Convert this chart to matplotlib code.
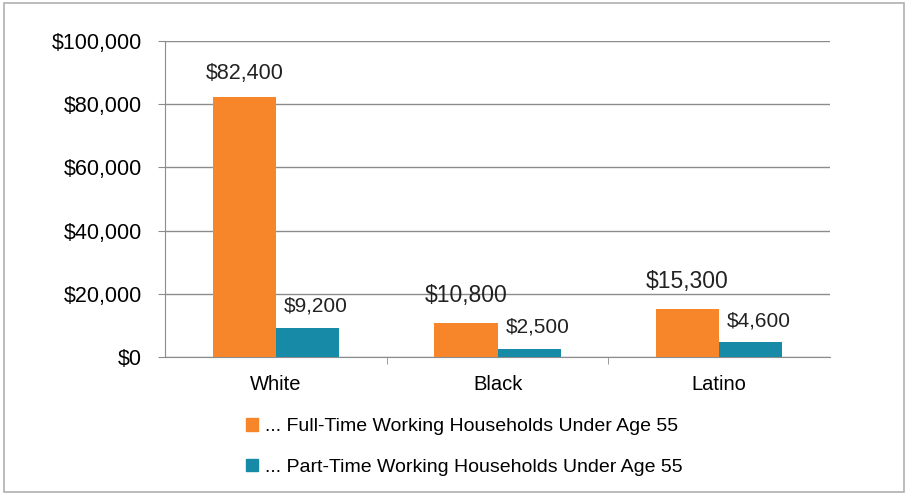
import numpy as np
import matplotlib.pyplot as plt
from matplotlib.patches import Rectangle, Patch

groups = ["White", "Black", "Latino"]
full_time = [82400, 10800, 15300]
part_time = [9200, 2500, 4600]
series_names = ["... Full-Time Working Households Under Age 55",
                "... Part-Time Working Households Under Age 55"]

ORANGE = "#F7862B"
TEAL = "#168AA6"
GRID = "#8c8c8c"

plt.rcParams["font.family"] = ["Liberation Sans", "DejaVu Sans"]

fig = plt.figure(figsize=(9.08, 4.95), dpi=100)
ax = fig.add_axes([0.182, 0.279, 0.732, 0.638])

x = np.arange(len(groups))
w = 0.285
b1 = ax.bar(x - w / 2, full_time, w, color=ORANGE, zorder=3)
b2 = ax.bar(x + w / 2, part_time, w, color=TEAL, zorder=3)

# value labels, the small-bar ones are a bit bigger in the original
for i, r in enumerate(b1):
    fs = 15.5 if i == 0 else 16.5
    dy = 17 if i == 0 else 19.5
    ax.annotate(f"${full_time[i]:,}", (r.get_x() + r.get_width() / 2, r.get_height()),
                xytext=(0, dy), textcoords="offset points", ha="center", va="center",
                fontsize=fs, color="#222222")
for i, r in enumerate(b2):
    ax.annotate(f"${part_time[i]:,}", (r.get_x() + r.get_width() / 2, r.get_height()),
                xytext=(6, 15.5), textcoords="offset points", ha="center", va="center",
                fontsize=15, color="#222222")

ax.set_xlim(-0.5, 2.5)
ax.set_ylim(0, 100000)
ax.set_yticks(np.arange(0, 100001, 20000))
ax.set_yticklabels([f"${v:,}" for v in range(0, 100001, 20000)], fontsize=15.5)
ax.set_xticks(x)
ax.set_xticklabels(groups, fontsize=14.5)
ax.tick_params(axis="x", length=0, pad=13)
ax.tick_params(axis="y", length=5, color=GRID, pad=12)
ax.set_xticks([0.5, 1.5], minor=True)
ax.tick_params(axis="x", which="minor", length=5, color=GRID)

ax.yaxis.grid(True, color=GRID, linewidth=1, zorder=0)
for s in ["top", "right"]:
    ax.spines[s].set_visible(False)
ax.spines["left"].set_color(GRID)
ax.spines["bottom"].set_color(GRID)

handles = [Patch(color=ORANGE), Patch(color=TEAL)]
fig.legend(handles, series_names, loc="upper left", bbox_to_anchor=(0.252, 0.19),
           frameon=False, fontsize=14, handlelength=0.6, handleheight=0.6,
           handletextpad=0.35, labelspacing=1.2)

fig.patches.append(Rectangle((0.004, 0.006), 0.992, 0.988, transform=fig.transFigure,
                             fill=False, edgecolor="#b0b0b0", linewidth=1.2))

fig.savefig("out.png", dpi=100)
